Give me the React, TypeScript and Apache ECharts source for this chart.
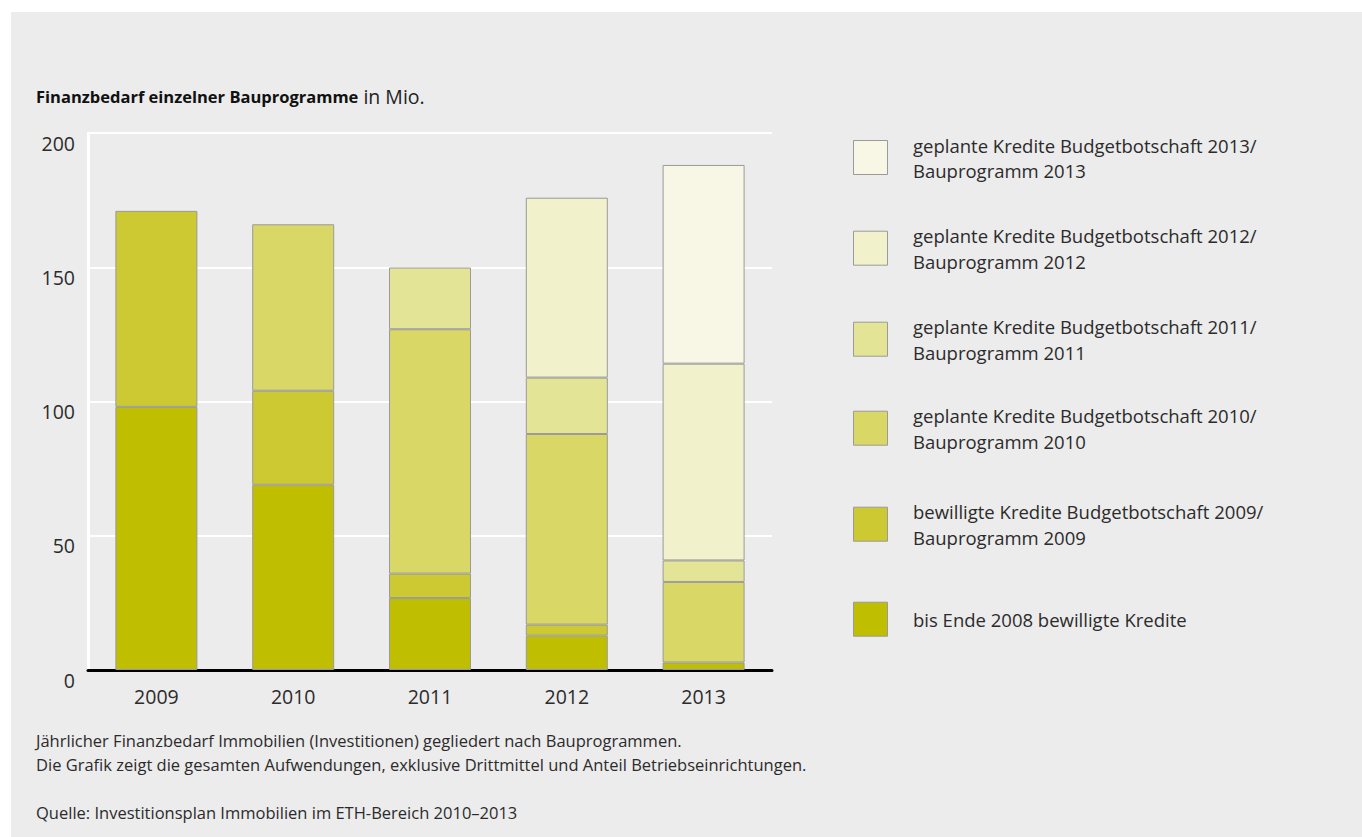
import React, { useEffect, useRef } from "react";
import * as echarts from "echarts";

const years = ["2009", "2010", "2011", "2012", "2013"];
const seriesNames = [
  "bis Ende 2008 bewilligte Kredite",
  "bewilligte Kredite Budgetbotschaft 2009/\nBauprogramm 2009",
  "geplante Kredite Budgetbotschaft 2010/\nBauprogramm 2010",
  "geplante Kredite Budgetbotschaft 2011/\nBauprogramm 2011",
  "geplante Kredite Budgetbotschaft 2012/\nBauprogramm 2012",
  "geplante Kredite Budgetbotschaft 2013/\nBauprogramm 2013",
];
const v2008 = [98, 69, 26.8, 12.8, 2.8];
const v2009 = [73, 35, 9.1, 4.1, null];
const v2010 = [null, 62, 91, 71, 30];
const v2011 = [null, null, 23, 21, 8];
const v2012 = [null, null, null, 67, 73.3];
const v2013 = [null, null, null, null, 74];
const seriesValues = [v2008, v2009, v2010, v2011, v2012, v2013];
const colors = ["#bfbe00", "#cdc932", "#d9d766", "#e4e497", "#f1f1cb", "#f8f7e6"];
const yTicks = { min: 0, max: 200, interval: 50 };

const titleBold = "Finanzbedarf einzelner Bauprogramme";
const titleUnit = " in Mio.";
const note1 = "Jährlicher Finanzbedarf Immobilien (Investitionen) gegliedert nach Bauprogrammen.";
const note2 = "Die Grafik zeigt die gesamten Aufwendungen, exklusive Drittmittel und Anteil Betriebseinrichtungen.";
const source = "Quelle: Investitionsplan Immobilien im ETH-Bereich 2010–2013";

const FONT = "'Open Sans', 'Noto Sans', sans-serif";
const TXT = "#2b2b2b";

export default function App() {
  const ref = useRef<HTMLDivElement>(null);
  useEffect(() => {
    document.body.style.margin = "0";
    const chart = echarts.init(ref.current!, null, { renderer: "svg" });
    const legendTops = [601.7, 506.7, 410.7, 321.7, 230.7, 140];
    const legendEls: any[] = [];
    seriesNames.forEach((name, i) => {
      const top = legendTops[i];
      legendEls.push({
        type: "rect",
        shape: { x: 853.5, y: top + 0.5, width: 34, height: 34 },
        style: { fill: colors[i], stroke: "#9a9a9a", lineWidth: 1 },
      });
      legendEls.push({
        type: "text",
        x: 913,
        y: top + 18,
        style: {
          text: name,
          fontFamily: FONT,
          fontSize: 18.5,
          lineHeight: 25.5,
          fill: TXT,
          verticalAlign: "middle",
          align: "left",
        },
      });
    });
    const note = (text: string, y: number) => ({
      type: "text",
      x: 36,
      y,
      style: { text, fontFamily: FONT, fontSize: 16.5, fill: TXT, verticalAlign: "middle" },
    });
    chart.setOption({
      animation: false,
      backgroundColor: "transparent",
      textStyle: { fontFamily: FONT },
      title: {
        left: 36,
        top: 84,
        padding: 0,
        text: `{b|${titleBold}}{n|${titleUnit}}`,
        textStyle: {
          rich: {
            b: { fontFamily: FONT, fontSize: 16.5, fontWeight: "bold", color: "#111", lineHeight: 24 },
            n: { fontFamily: FONT, fontSize: 19.5, fontWeight: "normal", color: "#222", lineHeight: 24 },
          },
        },
      },
      grid: { left: 88, top: 133, width: 684, height: 537, containLabel: false },
      xAxis: {
        type: "category",
        data: years,
        axisLine: { lineStyle: { color: "#000", width: 3 } },
        axisTick: { show: false },
        axisLabel: { fontSize: 19.5, color: TXT, margin: 16, fontFamily: FONT },
        splitLine: { show: false },
      },
      yAxis: {
        type: "value",
        min: yTicks.min,
        max: yTicks.max,
        interval: yTicks.interval,
        axisLine: { show: true, lineStyle: { color: "#fff", width: 3 } },
        axisTick: { show: false },
        axisLabel: {
          fontSize: 19.5,
          color: TXT,
          margin: 13,
          verticalAlign: "top",
          lineHeight: 20,
          fontFamily: FONT,
        },
        splitLine: { show: true, lineStyle: { color: "#fff", width: 2 } },
      },
      series: seriesNames.map((name, i) => ({
        name,
        type: "bar",
        stack: "total",
        barWidth: 82,
        data: seriesValues[i],
        itemStyle: { color: colors[i], borderColor: "#9a9a9a", borderWidth: 1 },
        emphasis: { disabled: true },
      })),
      graphic: [...legendEls, note(note1, 740), note(note2, 764), note(source, 812)],
    });
    return () => chart.dispose();
  }, []);
  return (
    <div style={{ position: "relative", width: 1362, height: 837, background: "#fff" }}>
      <div style={{ position: "absolute", left: 11, top: 12, right: 0, bottom: 0, background: "#ebeceb" }} />
      <div ref={ref} style={{ position: "absolute", left: 0, top: 0, width: 1362, height: 837 }} />
    </div>
  );
}
